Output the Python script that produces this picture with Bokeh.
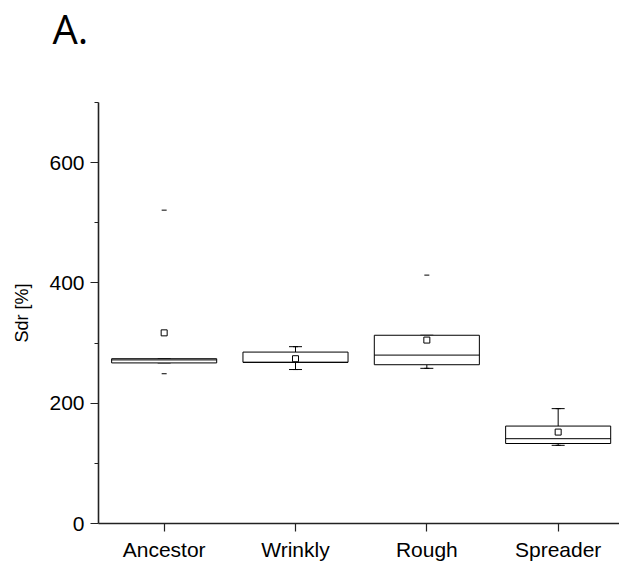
from bokeh.plotting import figure
from bokeh.models import FixedTicker, Range1d, Title, ColumnDataSource
from bokeh.embed import file_html
from bokeh.resources import INLINE

# ---- data ----
categories = ["Ancestor", "Wrinkly", "Rough", "Spreader"]
q1 = [267, 268, 264, 133]
median = [272, 268, 280, 141]
q3 = [274, 285, 313, 162]
mean = [317, 274, 305, 152]
whisker_low = [267, 256, 258, 130]
whisker_high = [274, 294, 313, 191]
minimum = [249, 256, 258, 130]
maximum = [521, 294, 413, 191]

y_major = [0, 200, 400, 600]
y_minor = [100, 300, 500, 700]

pos = list(range(1, len(categories) + 1))

src = ColumnDataSource(dict(x=pos, q1=q1, med=median, q3=q3, mean=mean,
                            wl=whisker_low, wh=whisker_high,
                            mn=minimum, mx=maximum))

FONT = "Liberation Sans"

p = figure(width=619, height=565, output_backend="svg", toolbar_location=None,
           x_range=Range1d(0.5, 4.467), y_range=Range1d(0, 700),
           min_border_left=98, min_border_right=0, min_border_top=102,
           min_border_bottom=42, title=None)
p.outline_line_color = None
p.xgrid.grid_line_color = None
p.ygrid.grid_line_color = None

# whiskers
p.segment(x0="x", y0="q3", x1="x", y1="wh", source=src, line_color="black", line_width=1)
p.segment(x0="x", y0="q1", x1="x", y1="wl", source=src, line_color="black", line_width=1)
p.dash(x="x", y="wh", source=src, size=13, line_color="black", line_width=1)
p.dash(x="x", y="wl", source=src, size=13, line_color="black", line_width=1)
# boxes
p.vbar(x="x", width=0.8, bottom="q1", top="q3", source=src,
       fill_color="white", line_color="black", line_width=1)
# median
p.dash(x="x", y="med", source=src, size=105, line_color="black", line_width=1)
# min / max markers
p.dash(x="x", y="mn", source=src, size=5, line_color="black", line_width=1)
p.dash(x="x", y="mx", source=src, size=5, line_color="black", line_width=1)
# mean
p.scatter(x="x", y="mean", source=src, marker="square", size=6,
          fill_color="white", line_color="black", line_width=1)

# axes
p.xaxis.ticker = FixedTicker(ticks=pos)
p.xaxis.major_label_overrides = {i: c for i, c in zip(pos, categories)}
p.yaxis.ticker = FixedTicker(ticks=y_major, minor_ticks=y_minor)
for ax in (p.xaxis, p.yaxis):
    ax.axis_line_color = "#222222"
    ax.axis_line_width = 1.6
    ax.major_tick_line_color = "#222222"
    ax.major_tick_line_width = 1.2
    ax.major_tick_out = 8
    ax.major_tick_in = 0
    ax.major_label_text_font = FONT
    ax.major_label_text_font_size = "21px"
    ax.major_label_text_color = "black"
    ax.major_label_standoff = 6
p.xaxis.minor_tick_line_color = None
p.yaxis.minor_tick_line_color = "#222222"
p.yaxis.minor_tick_out = 4
p.yaxis.minor_tick_in = 0
p.yaxis.axis_label = "Sdr [%]"
p.yaxis.axis_label_text_font = FONT
p.yaxis.axis_label_text_font_size = "18px"
p.yaxis.axis_label_text_font_style = "normal"
p.yaxis.axis_label_text_color = "black"
p.yaxis.axis_label_standoff = 14

# spacer panel next to the frame, then the panel letter at the very top
p.add_layout(Title(text=" ", text_font_size="2px", standoff=41), "above")
p.add_layout(Title(text="A.", text_font="Open Sans", text_font_size="40px",
                   text_font_style="normal", text_color="black",
                   align="left", offset=-46, standoff=0, vertical_align="top"), "above")

open("out.html", "w").write(file_html(p, INLINE))
